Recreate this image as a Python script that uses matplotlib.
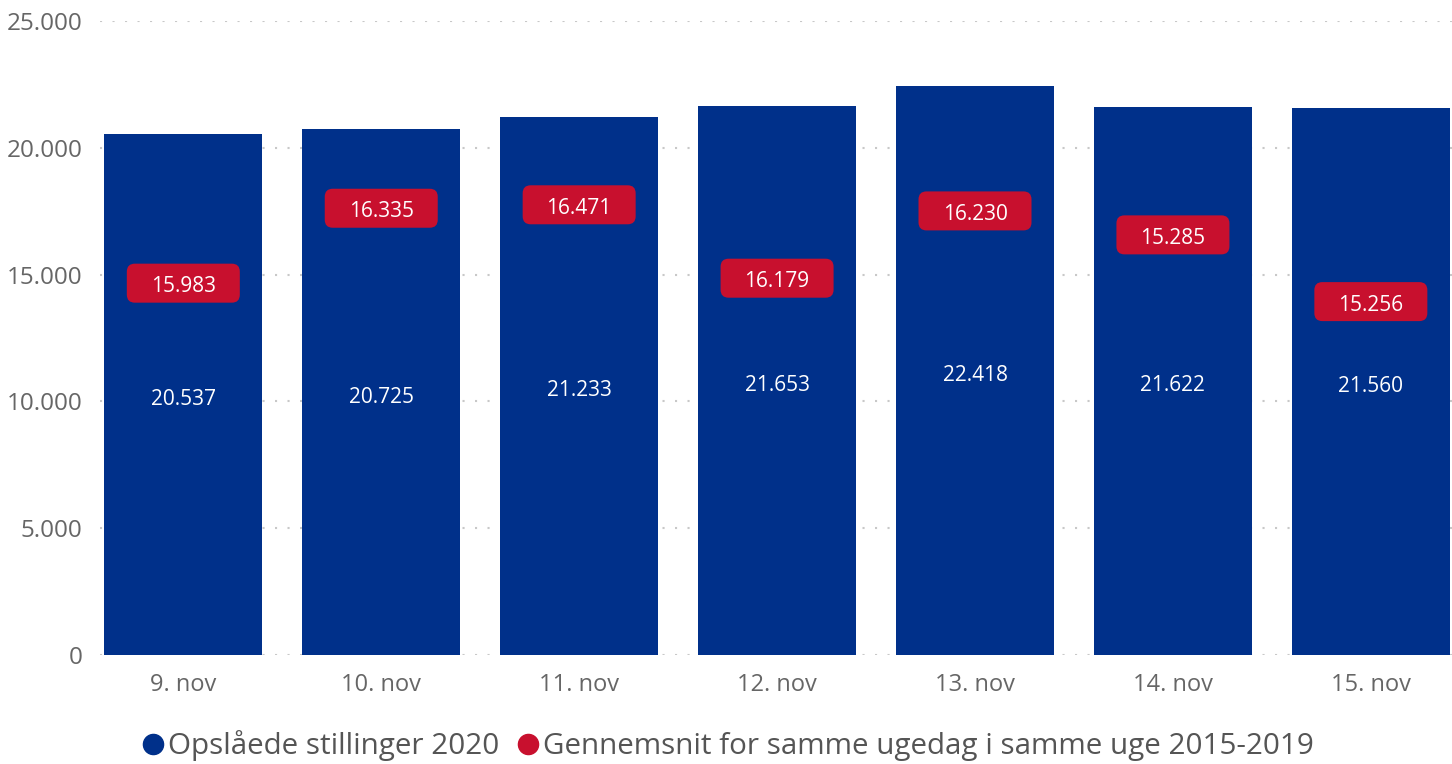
import matplotlib.pyplot as plt
import matplotlib.transforms as mtransforms
from matplotlib.patches import FancyBboxPatch
from matplotlib.lines import Line2D

# === DATA ===
dates = ['9. nov', '10. nov', '11. nov', '12. nov', '13. nov', '14. nov', '15. nov']
jobs_2020 = [20537, 20725, 21233, 21653, 22418, 21622, 21560]
avg_2015_2019 = [15983, 16335, 16471, 16179, 16230, 15285, 15256]
label_side = [-1, 1, 1, -1, 1, 1, -1]   # red label below (-1) or above (1) the point

BLUE = '#00308A'
RED = '#C8102E'
TICK_COLOR = '#666666'

def fmt(v):
    return f'{v:,}'.replace(',', '.')

plt.rcParams['font.family'] = ['Open Sans', 'DejaVu Sans']

fig = plt.figure(figsize=(14.52, 7.64), dpi=100)
ax = fig.add_axes([0.069, 0.1427, 0.931, 0.8298])

x = list(range(len(dates)))
ax.bar(x, jobs_2020, width=0.8, color=BLUE, zorder=2)

ax.set_xlim(-0.42, 6.41)
ax.set_ylim(0, 25000)
ax.set_yticks(range(0, 25001, 5000))
ax.set_yticklabels([fmt(v) for v in range(0, 25001, 5000)])
ax.set_xticks(x)
ax.set_xticklabels(dates)
ax.tick_params(axis='both', length=0, labelcolor=TICK_COLOR)
ax.tick_params(axis='y', pad=13, labelsize=17.5)
ax.tick_params(axis='x', pad=13, labelsize=17)
for s in ax.spines.values():
    s.set_visible(False)
ax.grid(axis='y', color='#c8c8c8', linewidth=1.5, linestyle=(0, (1, 5)), zorder=0)
ax.set_axisbelow(True)

# value labels in the middle of the bars
for xi, v in zip(x, jobs_2020):
    ax.annotate(fmt(v), (xi, v / 2), xytext=(0, -5), textcoords='offset pixels',
                ha='center', va='center', color='white', fontsize=15, zorder=3)

# red labels for the average series (line itself not drawn)
for xi, v, side in zip(x, avg_2015_2019, label_side):
    off = 33 * side
    trans = (mtransforms.Affine2D().translate(0, off)
             + mtransforms.ScaledTranslation(xi, v, ax.transData))
    box = FancyBboxPatch((-56.5, -20), 113, 39,
                         boxstyle='round,pad=0,rounding_size=8',
                         facecolor=RED, edgecolor='none',
                         transform=trans, zorder=4)
    ax.add_artist(box)
    ax.annotate(fmt(v), (xi, v), xytext=(0, off - 4), textcoords='offset pixels',
                ha='center', va='center', color='white', fontsize=15, zorder=5)

handles = [Line2D([], [], marker='o', linestyle='none', markersize=14.5, color=BLUE),
           Line2D([], [], marker='o', linestyle='none', markersize=14.5, color=RED)]
fig.legend(handles, ['Opslåede stillinger 2020',
                     'Gennemsnit for samme ugedag i samme uge 2015-2019'],
           loc='center', bbox_to_anchor=(0.5, 0.024), ncol=2, frameon=False,
           fontsize=21.3, labelcolor='#555555', handletextpad=0.0,
           columnspacing=0.5, handlelength=1.0)

plt.savefig('out.png', dpi=100)
